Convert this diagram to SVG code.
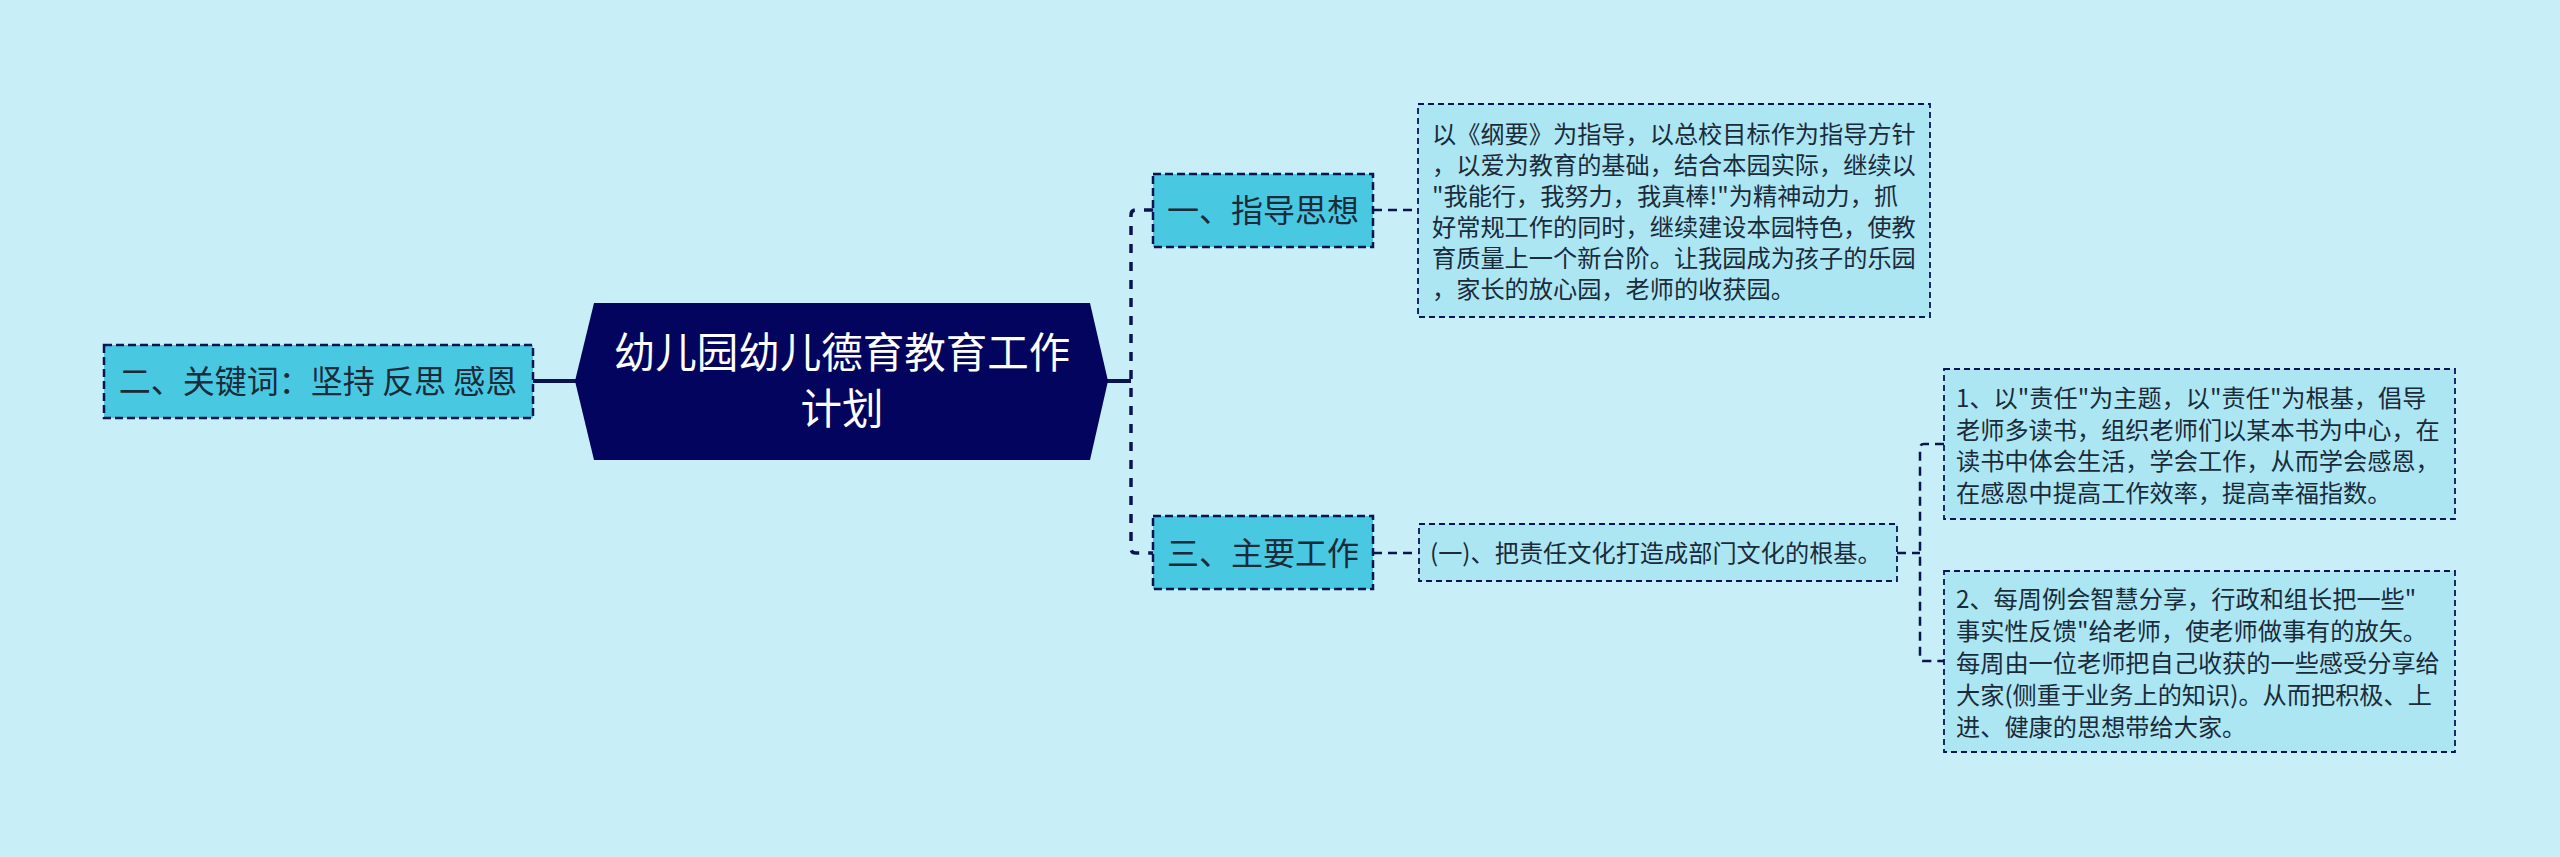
<svg xmlns="http://www.w3.org/2000/svg" width="2560" height="857" viewBox="0 0 2560 857">
<style>
.main{fill:#49c8e2;stroke:#0b1452;stroke-width:2.5;stroke-dasharray:8 4}
.leaf{fill:#ade6f3;stroke:#0b1452;stroke-width:1.8;stroke-dasharray:6 4}
.t1{font-family:"Noto Sans CJK SC","Noto Sans",sans-serif;font-size:32px;fill:#1a2b3a;text-anchor:middle}
.t2{font-family:"Noto Sans CJK SC","Noto Sans",sans-serif;font-size:24.2px;fill:#1a2b3a}
.tc{font-family:"Noto Sans CJK SC","Noto Sans",sans-serif;font-size:41.5px;fill:#ffffff;text-anchor:middle}
.solid{fill:none;stroke:#0b1452;stroke-width:4}
.dash1{fill:none;stroke:#0b1452;stroke-width:3.5;stroke-dasharray:9 9}
.dash2{fill:none;stroke:#0b1452;stroke-width:2.5;stroke-dasharray:9 6}
</style>
<rect x="0" y="0" width="2560" height="857" fill="#c8eff7"/>
<g id="connectors">
<line class="solid" x1="533" y1="381" x2="578" y2="381"/>
<line class="solid" x1="1106" y1="381" x2="1131" y2="381"/>
<path class="dash1" d="M1153,210 H1136 Q1131,210 1131,215 V548 Q1131,553 1136,553 H1153"/>
<line class="dash2" x1="1373" y1="210" x2="1418" y2="210"/>
<line class="dash2" x1="1373" y1="553" x2="1419" y2="553"/>
<line class="dash2" x1="1897" y1="553" x2="1920" y2="553"/>
<path class="dash2" d="M1944,444 H1924 Q1920,444 1920,448 V657 Q1920,661 1924,661 H1944"/>
</g>
<g id="center">
<polygon points="575,381 594,303 1090,303 1108,381 1090,460 594,460" fill="#03045e"/>
<text class="tc" x="842" y="368">幼儿园幼儿德育教育工作</text>
<text class="tc" x="842" y="424">计划</text>
</g>
<g id="node-keywords">
<rect class="main" x="104" y="345" width="429" height="73"/>
<text class="t1" x="318" y="393">二、关键词：坚持 反思 感恩</text>
</g>
<g id="node-guide">
<rect class="main" x="1153" y="174" width="220" height="73"/>
<text class="t1" x="1263" y="222">一、指导思想</text>
</g>
<g id="node-guide-detail">
<rect class="leaf" x="1418" y="104" width="512" height="213"/>
<text class="t2" x="1432" y="143">以《纲要》为指导，以总校目标作为指导方针</text>
<text class="t2" x="1432" y="174">，以爱为教育的基础，结合本园实际，继续以</text>
<text class="t2" x="1432" y="205">"我能行，我努力，我真棒!"为精神动力，抓</text>
<text class="t2" x="1432" y="236">好常规工作的同时，继续建设本园特色，使教</text>
<text class="t2" x="1432" y="267">育质量上一个新台阶。让我园成为孩子的乐园</text>
<text class="t2" x="1432" y="298">，家长的放心园，老师的收获园。</text>
</g>
<g id="node-work">
<rect class="main" x="1153" y="516" width="220" height="73"/>
<text class="t1" x="1263" y="565">三、主要工作</text>
</g>
<g id="node-work-1">
<rect class="leaf" x="1419" y="524" width="478" height="57"/>
<text class="t2" x="1430" y="562">(一)、把责任文化打造成部门文化的根基。</text>
</g>
<g id="node-work-1a">
<rect class="leaf" x="1944" y="369" width="511" height="150"/>
<text class="t2" x="1956" y="407">1、以"责任"为主题，以"责任"为根基，倡导</text>
<text class="t2" x="1956" y="438.5">老师多读书，组织老师们以某本书为中心，在</text>
<text class="t2" x="1956" y="470">读书中体会生活，学会工作，从而学会感恩，</text>
<text class="t2" x="1956" y="501.5">在感恩中提高工作效率，提高幸福指数。</text>
</g>
<g id="node-work-1b">
<rect class="leaf" x="1944" y="571" width="511" height="181"/>
<text class="t2" x="1956" y="608">2、每周例会智慧分享，行政和组长把一些"</text>
<text class="t2" x="1956" y="640">事实性反馈"给老师，使老师做事有的放矢。</text>
<text class="t2" x="1956" y="672">每周由一位老师把自己收获的一些感受分享给</text>
<text class="t2" x="1956" y="704">大家(侧重于业务上的知识)。从而把积极、上</text>
<text class="t2" x="1956" y="736">进、健康的思想带给大家。</text>
</g>
</svg>
